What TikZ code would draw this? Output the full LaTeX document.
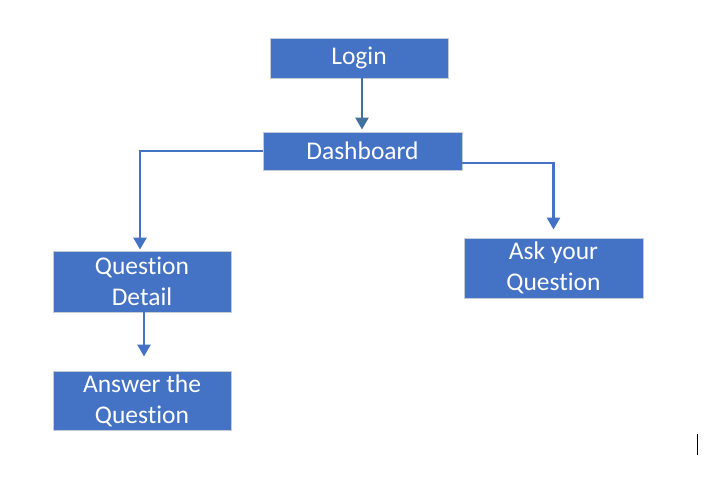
\documentclass[tikz,border=0pt]{standalone}
\usepackage{fontspec}
\setmainfont{Carlito}[RawFeature={-liga}]
\usetikzlibrary{arrows.meta,positioning,calc}
\definecolor{boxblue}{HTML}{4472C4}
\definecolor{boxrim}{HTML}{C5CCD8}
\definecolor{darkarrow}{HTML}{41719C}

\begin{document}
\begin{tikzpicture}[x=1pt,y=-1pt,
    page/.style={fill=boxblue, draw=boxrim, line width=0.9pt, text=white,
      align=center, inner sep=0pt, font=\fontsize{25.5}{31}\selectfont},
    flow/.style={draw=boxblue, line width=2.6pt,
      -{Triangle[width=13pt,length=12pt]}}]
  \useasboundingbox (0,0) rectangle (722,487);
  \node [page, minimum width=178pt, minimum height=40pt] (login) at (359,58) {Login};
  \node [page, minimum width=199pt, minimum height=38pt] (dash) at (362.5,151) {Dashboard};
  \node [page, minimum width=178pt, minimum height=61pt] (detail) at (142,281.5) {Question\\Detail};
  \node [page, minimum width=179pt, minimum height=60pt] (ask) at (553.5,268) {Ask your\\Question};
  \node [page, minimum width=178pt, minimum height=59pt] (answer) at (142,400.5) {Answer the\\Question};

  \draw [flow, draw=darkarrow, shorten >=2pt] ($(login.south)+(3,0)$) -- ($(dash.north)+(-0.5,0)$);
  \draw [flow, shorten >=1pt] (dash.west) -| ($(detail.north)+(-2,0)$);
  \draw [flow, shorten >=8pt] ($(dash.east)+(0,12)$) -| (ask.north);
  \draw [flow, shorten >=14pt] ($(detail.south)+(2,0)$) -- ($(answer.north)+(2,0)$);

  \draw [line width=1pt] (697,434) -- (697,455);
\end{tikzpicture}
\end{document}
